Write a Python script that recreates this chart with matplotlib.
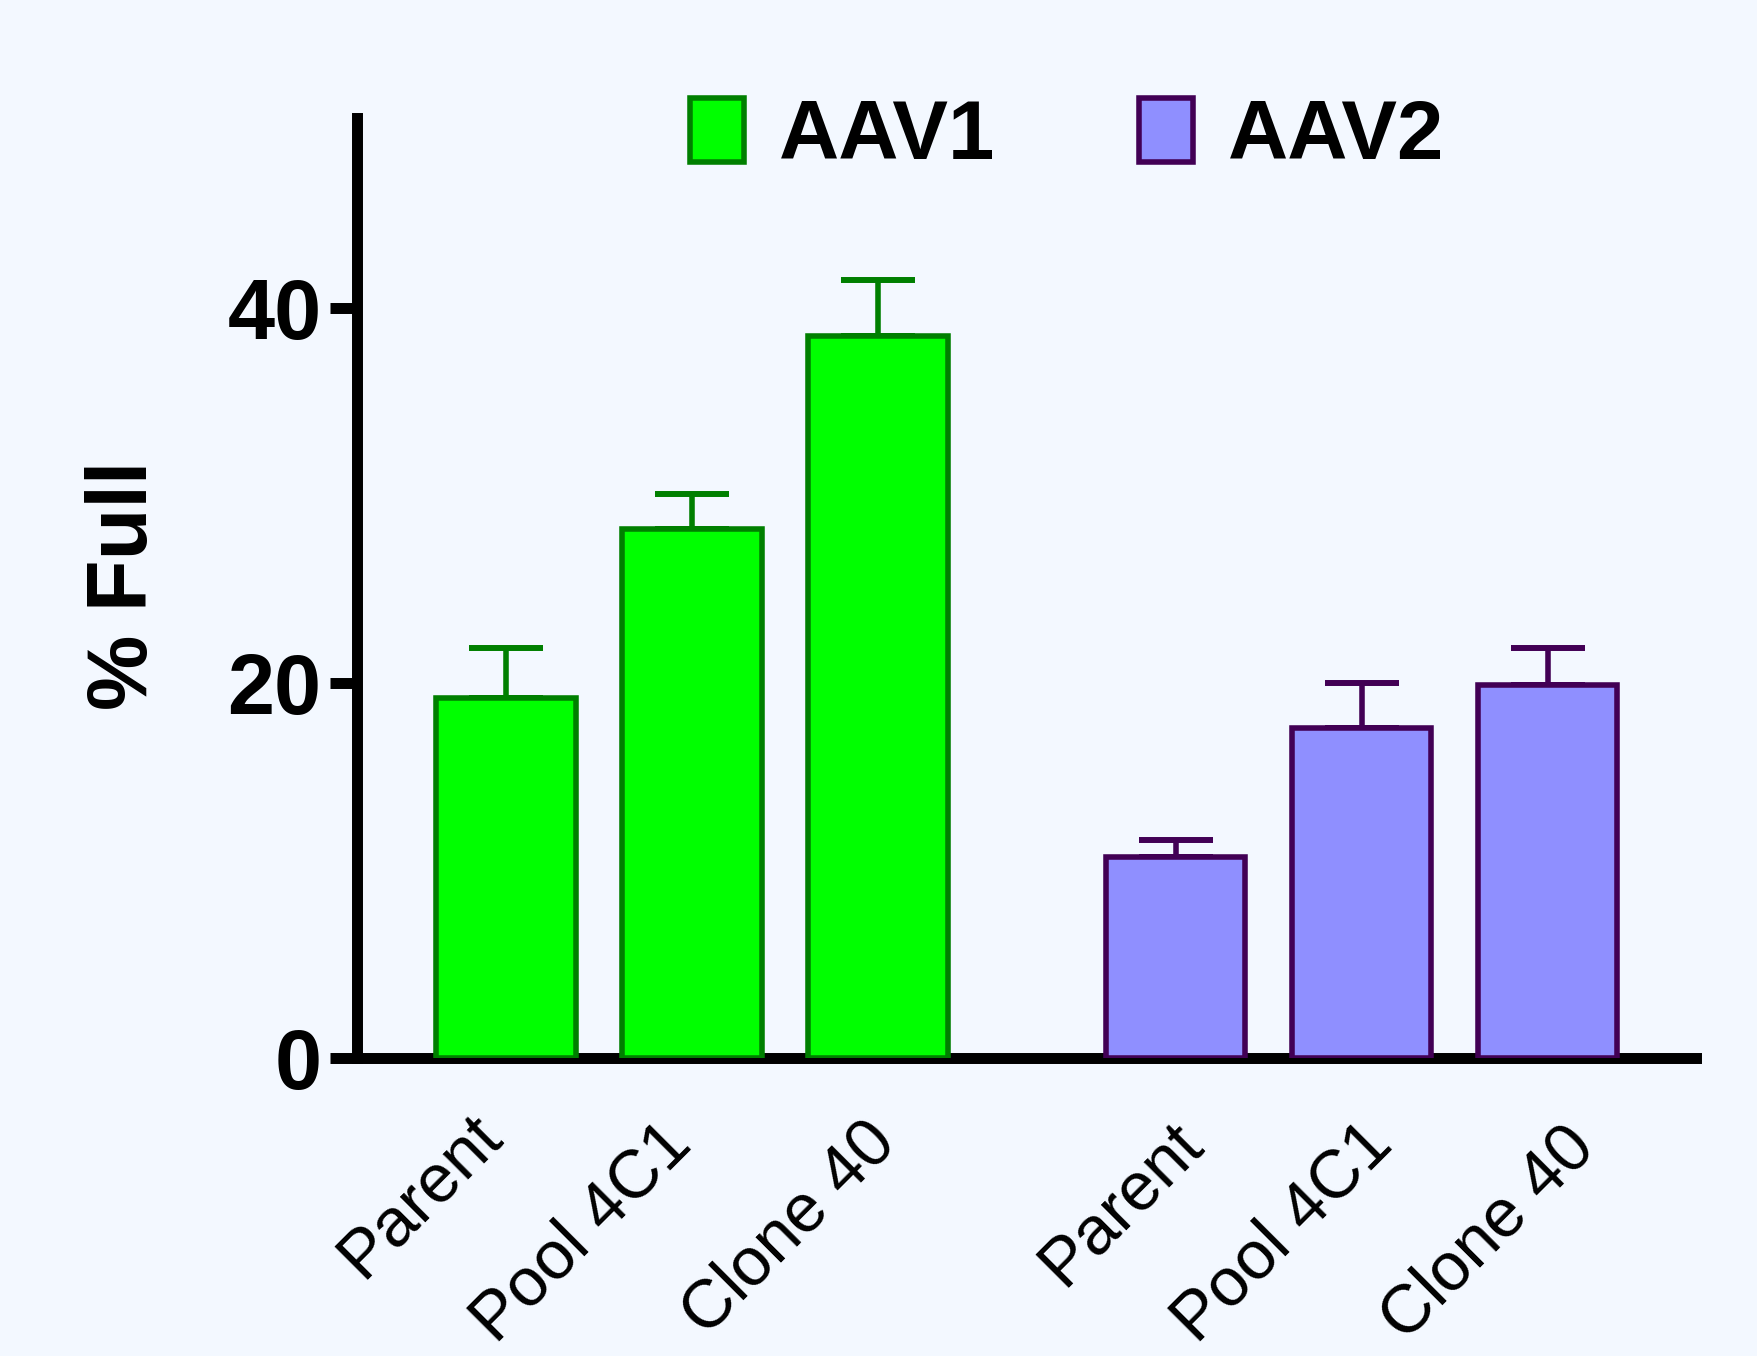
import matplotlib
matplotlib.use("Agg")
import matplotlib.pyplot as plt
from matplotlib.transforms import ScaledTranslation
import numpy as np

# ---- data ----
categories = ["Parent", "Pool 4C1", "Clone 40"]
series_names = ["AAV1", "AAV2"]
aav1_values = [19.2, 28.2, 38.5]
aav1_errors = [2.65, 1.85, 3.0]
aav2_values = [10.7, 17.6, 19.9]
aav2_errors = [0.9, 2.4, 1.95]
y_ticks = [0, 20, 40]

# ---- style ----
BG = "#F3F8FF"
FILL1, EDGE1 = "#00FF00", "#007F00"
FILL2, EDGE2 = "#8F8FFF", "#420055"
FONT = ["Liberation Sans", "DejaVu Sans"]
# nudges (pixels right, pixels down) of each rotated category label's end
LABEL_NUDGE = [(-2, 80), (2, 89), (20, 88), (29, 88), (33, 89), (50, 93)]

plt.rcParams["font.family"] = FONT

DPI = 100
fig = plt.figure(figsize=(17.57, 13.56), dpi=DPI, facecolor=BG)
ax = fig.add_axes([0.2030, 0.2201, 0.762, 0.6932])
ax.set_facecolor(BG)

n = len(categories)
pos1 = np.arange(n, dtype=float)
pos2 = np.arange(n, dtype=float) + n + 0.6
width = 0.75
bar_lw = 4.0

b1 = ax.bar(pos1, aav1_values, width=width, color=FILL1, edgecolor=EDGE1,
            linewidth=bar_lw, zorder=3)
b2 = ax.bar(pos2, aav2_values, width=width, color=FILL2, edgecolor=EDGE2,
            linewidth=bar_lw, zorder=3)

for pos, vals, errs, col in [(pos1, aav1_values, aav1_errors, EDGE1),
                             (pos2, aav2_values, aav2_errors, EDGE2)]:
    ax.errorbar(pos, vals, yerr=[np.zeros(n), errs], fmt="none", ecolor=col,
                elinewidth=4.0, capsize=26.6, capthick=4.3, zorder=2)

ax.set_xlim(-0.803, 6.395)
ax.set_ylim(0, 50.16)

for s in ["top", "right"]:
    ax.spines[s].set_visible(False)
for s in ["left", "bottom"]:
    ax.spines[s].set_linewidth(7.9)
    ax.spines[s].set_color("black")

ax.set_yticks(y_ticks)
ax.set_yticklabels([str(t) for t in y_ticks])
ax.tick_params(axis="y", direction="out", length=19.4, width=7.9, pad=5.8,
               labelsize=61)
for lab in ax.get_yticklabels():
    lab.set_fontweight("bold")

all_pos = list(pos1) + list(pos2)
ax.set_xticks(all_pos)
ax.set_xticklabels(categories + categories, rotation=45, ha="right",
                   va="baseline", rotation_mode="anchor", fontsize=49)
ax.tick_params(axis="x", length=0, pad=0)
for lab, (dx, dy) in zip(ax.get_xticklabels(), LABEL_NUDGE):
    lab.set_transform(lab.get_transform() +
                      ScaledTranslation(dx / DPI, -dy / DPI, fig.dpi_scale_trans))

ax.set_ylabel("% Full", fontsize=61, fontweight="bold")
ax.yaxis.set_label_coords(-0.1432, 0.502)

ax.legend(handles=[b1, b2], labels=series_names, ncol=2, loc="center left",
          bbox_to_anchor=(690 / 1757, 1 - 137 / 1356),
          bbox_transform=fig.transFigure, frameon=False, borderpad=0,
          borderaxespad=0, handlelength=0.65, handleheight=0.8,
          handletextpad=0.42, columnspacing=1.72,
          prop=dict(weight="bold", size=60, family=FONT))

fig.savefig("out.png", dpi=DPI, facecolor=BG)
